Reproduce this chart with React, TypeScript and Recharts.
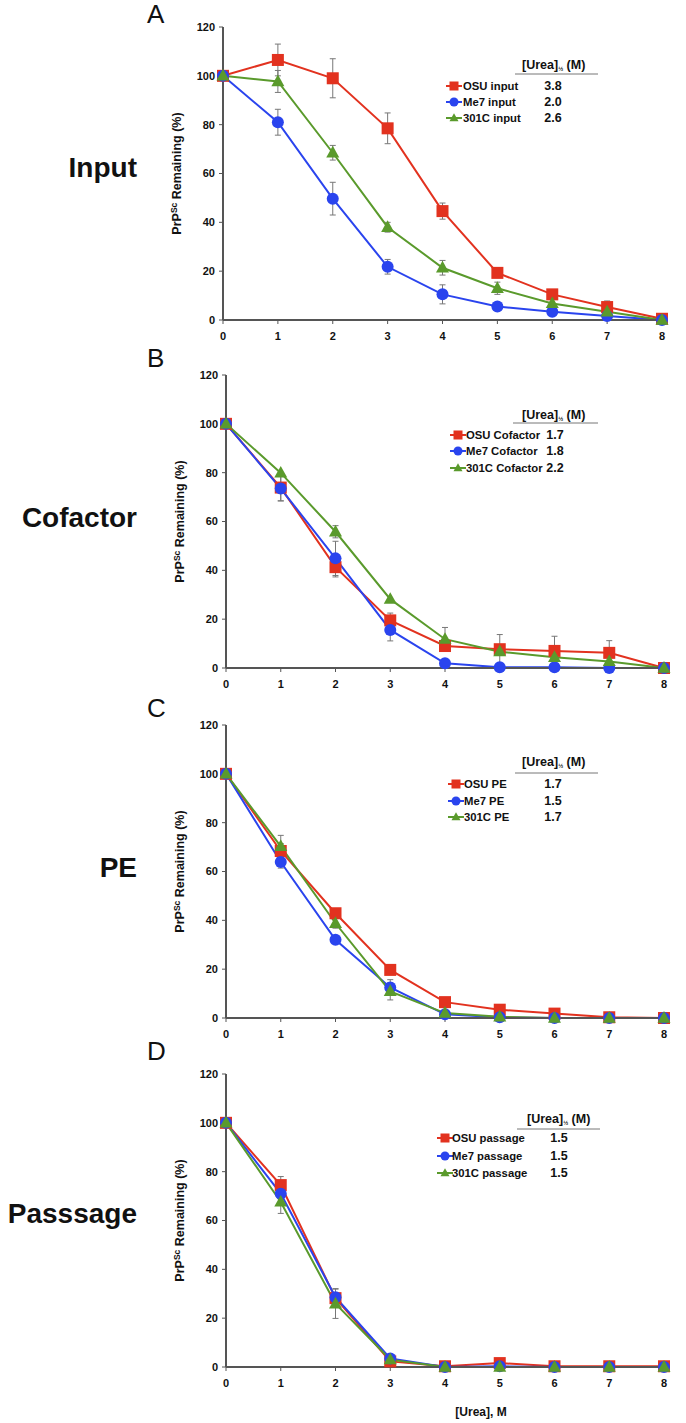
import React from 'react';
import { LineChart, Line, XAxis, YAxis, ErrorBar } from 'recharts';

// urea concentration (M) on the x axis, shared by all four panels
const urea = [0, 1, 2, 3, 4, 5, 6, 7, 8];
const yTicks = [0, 20, 40, 60, 80, 100, 120];

// A - Input
const inputOsu = [100, 106.5, 99, 78.5, 44.6, 19.3, 10.5, 5.3, 0.5];
const inputOsuErr = [0, 6.5, 8, 6.3, 3.3, 0, 0, 2.5, 0];
const inputMe7 = [100, 81, 49.7, 21.8, 10.5, 5.5, 3.4, 1.6, 0];
const inputMe7Err = [0, 5.3, 6.7, 3, 3.9, 0, 0, 0, 0];
const input301c = [100, 97.7, 68.5, 38, 21.4, 13, 6.8, 3.4, 0];
const input301cErr = [0, 4.5, 3, 2, 3, 2.5, 0, 0, 0];
const inputHalf = ['3.8', '2.0', '2.6'];

// B - Cofactor
const cofOsu = [100, 73.9, 41.3, 19.5, 9, 7.7, 7, 6.2, 0];
const cofOsuErr = [0, 5.5, 4, 3, 0, 6, 6, 5, 0];
const cofMe7 = [100, 73.5, 44.9, 15.6, 1.9, 0.3, 0.3, 0, 0];
const cofMe7Err = [0, 5, 7, 4.5, 0, 0, 0, 0, 0];
const cof301c = [100, 79.9, 55.8, 28.2, 11.8, 6.7, 4.4, 2.7, 0];
const cof301cErr = [0, 0, 2.5, 0, 4.8, 0, 0, 0, 0];
const cofHalf = ['1.7', '1.8', '2.2'];

// C - PE
const peOsu = [100, 68.4, 42.9, 19.7, 6.5, 3.4, 1.8, 0.3, 0];
const peOsuErr = [0, 3, 0, 0, 0, 0, 0, 0, 0];
const peMe7 = [100, 63.9, 32, 12.5, 1.5, 0.3, 0, 0, 0];
const peMe7Err = [0, 2.5, 0, 3.2, 0, 0, 0, 0, 0];
const pe301c = [100, 70.3, 38.8, 10.9, 2, 0.5, 0, 0, 0];
const pe301cErr = [0, 4.5, 2, 3.5, 0, 0, 0, 0, 0];
const peHalf = ['1.7', '1.5', '1.7'];

// D - Passage
const pasOsu = [100, 74.5, 28.2, 2.3, 0.3, 1.6, 0.3, 0.3, 0.3];
const pasOsuErr = [0, 3.5, 0, 0, 0, 0, 0, 0, 0];
const pasMe7 = [100, 71, 28.6, 3.5, 0, 0.3, 0, 0, 0];
const pasMe7Err = [0, 0, 3.5, 0, 0, 0, 0, 0, 0];
const pas301c = [100, 67.6, 25.9, 3, 0, 0, 0, 0, 0];
const pas301cErr = [0, 4.7, 6, 0, 0, 0, 0, 0, 0];
const pasHalf = ['1.5', '1.5', '1.5'];

const RED = '#e2321f';
const BLUE = '#2a44ee';
const GREEN = '#5a9a2c';
const AXIS = '#555';
const FONT = '"Liberation Sans", Arial, Helvetica, sans-serif';

const PAD = 12;
const PLOT_H = 293;
const X_H = 30;
const Y_W = 50;

type Pt = { x: number; y: number; e: number };
const toPoints = (vals: number[], errs: number[]): Pt[] =>
  urea.map((x, i) => ({ x, y: vals[i], e: errs[i] }));

function Marker({ kind, cx, cy, s }: { kind: string; cx: number; cy: number; s: number }) {
  if (kind === 'square') return <rect x={cx - s / 2} y={cy - s / 2} width={s} height={s} fill={RED} />;
  if (kind === 'circle') return <circle cx={cx} cy={cy} r={s / 2} fill={BLUE} />;
  const h = s * 0.9;
  return (
    <polygon
      points={`${cx},${cy - h * 0.6} ${cx - s / 2},${cy + h * 0.4} ${cx + s / 2},${cy + h * 0.4}`}
      fill={GREEN}
    />
  );
}

const makeDot = (kind: string, size: number) => (props: any) => {
  const { cx, cy, index } = props;
  if (cx == null || cy == null) return <g key={`${kind}-${index}`} />;
  return (
    <g key={`${kind}-${index}`}>
      <Marker kind={kind} cx={cx} cy={cy} s={size} />
    </g>
  );
};

const panels = [
  {
    id: 'A', title: 'Input', suffix: 'input', half: inputHalf,
    series: [toPoints(inputOsu, inputOsuErr), toPoints(inputMe7, inputMe7Err), toPoints(input301c, input301cErr)],
    plotLeft: 223, plotRight: 662, plotTop: 27,
    letterY: 23, titleY: 177,
    legend: { headY: 69, lineY: 74, x0: 446, textX: 463, valX: 553, rows: [90, 106, 122], headX: 522, ulX: [515, 598] },
  },
  {
    id: 'B', title: 'Cofactor', suffix: 'Cofactor', half: cofHalf,
    series: [toPoints(cofOsu, cofOsuErr), toPoints(cofMe7, cofMe7Err), toPoints(cof301c, cof301cErr)],
    plotLeft: 226, plotRight: 664, plotTop: 375,
    letterY: 367, titleY: 527,
    legend: { headY: 419, lineY: 423, x0: 450, textX: 466, valX: 555, rows: [439, 455, 472], headX: 522, ulX: [513, 598] },
  },
  {
    id: 'C', title: 'PE', suffix: 'PE', half: peHalf,
    series: [toPoints(peOsu, peOsuErr), toPoints(peMe7, peMe7Err), toPoints(pe301c, pe301cErr)],
    plotLeft: 226, plotRight: 664, plotTop: 725,
    letterY: 717, titleY: 877,
    legend: { headY: 766, lineY: 773, x0: 448, textX: 464, valX: 553, rows: [788, 805, 821], headX: 522, ulX: [515, 598] },
  },
  {
    id: 'D', title: 'Passsage', suffix: 'passage', half: pasHalf,
    series: [toPoints(pasOsu, pasOsuErr), toPoints(pasMe7, pasMe7Err), toPoints(pas301c, pas301cErr)],
    plotLeft: 226, plotRight: 664, plotTop: 1074,
    letterY: 1060, titleY: 1223,
    legend: { headY: 1123, lineY: 1129, x0: 437, textX: 452, valX: 559, rows: [1142, 1160, 1177], headX: 527, ulX: [517, 600] },
  },
];

const strains = [
  { name: 'OSU', color: RED, kind: 'square', size: 12 },
  { name: 'Me7', color: BLUE, kind: 'circle', size: 12 },
  { name: '301C', color: GREEN, kind: 'triangle', size: 13 },
];

const tickStyle = { fill: '#111', fontSize: 11, fontWeight: 'bold', fontFamily: FONT };

function Panel({ p }: { p: (typeof panels)[number] }) {
  return (
    <div style={{ position: 'absolute', left: 0, top: p.plotTop - PAD }}>
      <LineChart
        width={686}
        height={PAD + PLOT_H + X_H}
        margin={{ top: PAD, right: 686 - p.plotRight, bottom: 0, left: p.plotLeft - Y_W }}
      >
        <XAxis
          type="number"
          dataKey="x"
          domain={[0, 8]}
          ticks={urea}
          height={X_H}
          tick={tickStyle}
          tickSize={4}
          tickMargin={8}
          axisLine={{ stroke: AXIS, strokeWidth: 2 }}
          tickLine={{ stroke: AXIS }}
          allowDuplicatedCategory={false}
        />
        <YAxis
          type="number"
          domain={[0, 120]}
          ticks={yTicks}
          width={Y_W}
          tick={tickStyle}
          tickSize={4}
          tickMargin={4}
          axisLine={{ stroke: AXIS, strokeWidth: 2 }}
          tickLine={{ stroke: AXIS }}
        />
        {strains.map((s, i) => (
          <Line
            key={s.name}
            data={p.series[i]}
            dataKey="y"
            stroke={s.color}
            strokeWidth={2}
            dot={makeDot(s.kind, s.size)}
            activeDot={false}
            isAnimationActive={false}
          >
            <ErrorBar dataKey="e" direction="y" width={3} stroke="#777" strokeWidth={1} />
          </Line>
        ))}
      </LineChart>
    </div>
  );
}

function Overlay() {
  return (
    <svg
      width={686}
      height={1423}
      style={{ position: 'absolute', left: 0, top: 0, pointerEvents: 'none' }}
      fontFamily={FONT}
    >
      {panels.map((p) => {
        const lg = p.legend;
        const yMid = p.plotTop + PLOT_H / 2;
        const yl = p.plotLeft - 42;
        return (
          <g key={p.id}>
            <text x={147} y={p.letterY} fontSize={26} fill="#111">{p.id}</text>
            <text x={137} y={p.titleY} fontSize={28} fontWeight="bold" textAnchor="end" fill="#111">{p.title}</text>
            <text
              x={yl}
              y={yMid}
              transform={`rotate(-90 ${yl} ${yMid})`}
              textAnchor="middle"
              fontSize={12.5}
              fontWeight="bold"
              fill="#111"
            >
              PrP<tspan fontSize={8.5} dy={-4}>Sc</tspan>
              <tspan dy={4}> Remaining (%)</tspan>
            </text>
            <text x={lg.headX} y={lg.headY} fontSize={12.5} fontWeight="bold" fill="#111">
              [Urea]<tspan fontSize={6} dy={2}>½</tspan>
              <tspan dy={-2}> (M)</tspan>
            </text>
            <line x1={lg.ulX[0]} x2={lg.ulX[1]} y1={lg.lineY} y2={lg.lineY} stroke="#777" strokeWidth={1} />
            {strains.map((s, i) => {
              const ry = lg.rows[i];
              return (
                <g key={s.name}>
                  <line x1={lg.x0} x2={lg.x0 + 16} y1={ry - 4} y2={ry - 4} stroke={s.color} strokeWidth={2} />
                  <Marker kind={s.kind} cx={lg.x0 + 8} cy={ry - 4} s={9} />
                  <text x={lg.textX} y={ry} fontSize={11.3} fontWeight="bold" fill="#111">
                    {`${s.name} ${p.suffix}`}
                  </text>
                  <text x={lg.valX} y={ry} fontSize={12.5} fontWeight="bold" textAnchor="middle" fill="#111">
                    {p.half[i]}
                  </text>
                </g>
              );
            })}
          </g>
        );
      })}
      <text x={481} y={1416} fontSize={12} fontWeight="bold" textAnchor="middle" fill="#111">[Urea], M</text>
    </svg>
  );
}

export default function App() {
  return (
    <>
      <style>{'html,body{margin:0;padding:0;background:#fff;}'}</style>
      <div style={{ position: 'relative', width: 686, height: 1423, background: '#fff' }}>
        {panels.map((p) => (
          <Panel key={p.id} p={p} />
        ))}
        <Overlay />
      </div>
    </>
  );
}
